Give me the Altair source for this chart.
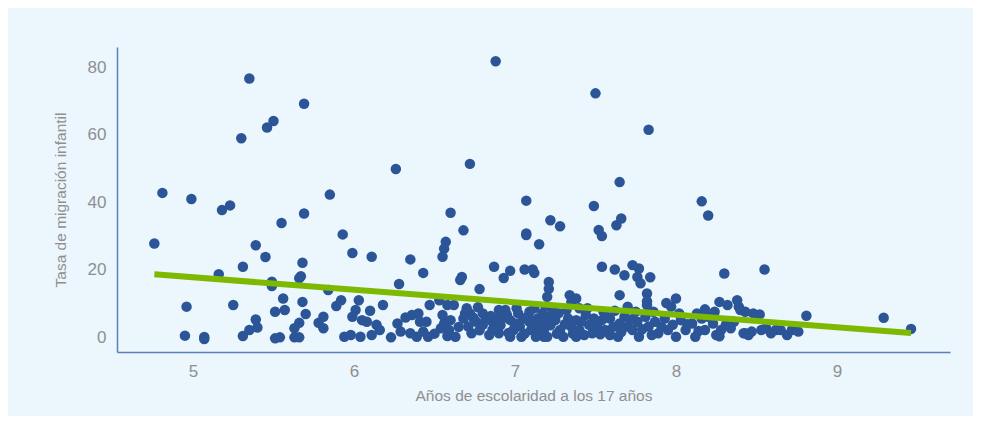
import altair as alt
import pandas as pd

# Scatter data: years of schooling at 17 (x) vs child migration rate (y)
x_vals = [
    4.76, 4.81, 4.99, 4.96, 4.95, 5.07, 5.07, 5.16, 5.18, 5.23, 5.25, 5.30, 5.35, 5.31, 5.31, 5.35,
    5.39, 5.40, 5.39, 5.45, 5.46, 5.50, 5.55, 5.49, 5.49, 5.51, 5.57, 5.56, 5.51, 5.54, 5.63, 5.66,
    5.63, 5.66, 5.69, 5.69, 5.68, 5.67, 5.66, 5.68, 5.70, 5.78, 5.81, 5.81, 5.85, 5.84, 5.89,
    5.93, 5.99, 6.11, 6.35, 6.26, 6.72, 6.60, 6.57, 6.56, 6.55, 6.68, 6.43, 6.28, 6.67, 6.66, 6.78,
    6.87, 6.88, 7.07, 7.07, 7.07, 7.15, 7.22, 7.28, 6.97, 6.93, 7.06, 7.11, 7.12, 7.21, 7.21, 7.20,
    5.92, 6.03, 6.01, 6.10, 6.18, 5.99, 6.05, 6.08, 6.14, 6.16, 5.94, 5.98, 6.04, 6.11, 6.23, 6.29,
    6.32, 6.36, 6.40, 6.41, 6.45, 6.47, 6.35, 6.39, 6.43, 6.46, 6.53, 6.58, 6.62, 6.55, 6.56, 6.60,
    6.54, 6.59, 6.58, 6.63, 6.69, 6.72, 6.68, 6.74, 6.76, 6.71, 6.73, 6.80, 6.82, 6.86, 6.86, 6.90,
    6.92, 6.88, 6.90, 6.94, 6.97, 6.99, 7.02, 7.05, 7.03, 7.04, 7.09, 7.09, 7.10, 7.14, 7.15, 7.17,
    7.19, 7.18, 7.13, 6.97,
    7.50, 7.83, 7.65, 7.49, 7.54, 7.62, 7.68, 7.73, 7.77, 7.84, 7.52, 7.54, 7.63, 7.66, 7.82, 7.65,
    7.78, 7.82, 7.76, 7.82, 8.30, 7.34, 7.38, 7.35, 7.24, 7.40, 7.70, 7.94, 8.00, 7.97, 8.27, 8.32,
    8.38, 8.39, 8.43, 8.18, 8.24, 8.48, 8.43, 8.47, 8.55, 8.16, 8.20,
    7.17, 7.19, 7.18, 7.20, 7.25, 7.28, 7.30, 7.33, 7.35, 7.38, 7.40, 7.38, 7.44, 7.46, 7.48, 7.51,
    7.54, 7.56, 7.57, 7.59, 7.59, 7.64, 7.65, 7.68, 7.70, 7.73, 7.76, 7.77, 7.81, 7.83, 7.87, 7.89,
    7.93, 7.95, 7.98, 8.00, 8.03, 8.06, 8.10, 8.12, 8.16, 8.18, 8.23, 8.25, 8.28, 8.31, 8.34,
    8.40, 8.52, 8.81, 9.29, 9.46, 8.42, 8.45, 8.53, 8.56, 8.59, 8.62, 8.65, 8.69, 8.72, 8.76,
    6.80, 6.84, 6.85, 6.89, 6.91, 6.95, 6.96, 7.00, 7.01, 7.06, 7.08, 7.12, 7.12, 7.16, 7.22, 7.23,
    7.26, 7.27, 7.31, 7.32, 7.36, 7.41, 7.43, 7.45, 7.49, 7.53, 7.55, 7.61, 7.62, 7.66, 7.72, 7.75,
    7.79, 7.85, 7.86, 7.91, 8.02, 8.07, 8.14, 8.20, 8.13, 8.27, 8.36, 6.78, 6.65, 6.50, 6.27, 6.70,
    6.77,
]
y_vals = [
    27.7, 42.7, 40.9, 9.0, 0.4, 0.0, -0.6, 18.6, 37.6, 39.0, 9.5, 58.9, 76.6, 20.8, 0.3, 2.1,
    5.2, 2.8, 27.2, 23.7, 62.1, 64.0, 33.8, 16.4, 15.1, 7.5, 8.0, 11.4, -0.4, -0.1, 2.6, 4.2,
    -0.1, -0.1, 69.1, 36.6, 22.0, 18.0, 17.4, 10.4, 6.8, 4.2, 2.6, 6.0, 42.2, 13.9, 9.2,
    30.4, 24.9, 23.8, 23.0, 49.8, 51.3, 36.8, 28.2, 26.2, 23.8, 31.6, 19.0, 15.7, 17.8, 16.9, 14.2,
    20.8, 81.7, 40.4, 30.7, 30.2, 27.5, 34.6, 32.8, 19.6, 17.5, 20.0, 20.0, 19.0, 16.3, 14.3, 11.9,
    10.9, 10.9, 8.0, 7.8, 9.5, 6.0, 5.0, 4.5, 3.6, 2.1, 0.1, 0.6, 0.1, 0.6, -0.1, 1.6,
    5.8, 6.5, 7.0, 4.5, 4.5, 9.5, 1.1, 0.1, 1.6, 0.1, 10.9, 9.5, 9.5, 6.5, 4.0, 5.0,
    2.6, 2.1, 0.3, 0.1, 7.0, 7.0, 5.5, 5.8, 4.5, 3.1, 1.1, 3.6, 5.5, 4.5, 2.1, 8.0,
    5.5, 3.1, 1.1, 8.0, 5.0, 2.1, 7.0, 5.5, 3.1, 0.1, 7.5, 4.5, 2.1, 5.5, 3.1, 2.1,
    9.0, 0.1, 0.1, 0.1,
    72.2, 61.4, 45.9, 38.8, 20.8, 20.0, 18.3, 21.3, 20.3, 17.7, 31.7, 29.9, 33.1, 35.1, 12.9, 12.4,
    15.9, 10.6, 17.8, 9.5, 18.8, 12.4, 11.4, 10.4, 8.0, 8.5, 9.0, 10.1, 11.4, 9.0, 10.4, 9.5,
    10.9, 9.0, 7.5, 8.2, 7.5, 7.0, 1.1, 1.6, 20.0, 40.2, 36.0,
    7.0, 5.0, 2.1, 0.1, 5.0, 2.1, 0.1, 5.5, 3.1, 5.0, 2.1, 0.1, 6.5, 3.6, 1.1, 3.1,
    5.0, 2.1, 6.0, 5.5, 0.6, 0.1, 4.0, 6.0, 3.1, 2.1, 4.5, 0.1, 6.0, 3.1, 4.5, 1.1,
    5.5, 2.1, 3.6, 0.1, 5.0, 2.1, 4.0, 0.1, 5.5, 2.1, 4.0, 0.6, 2.1, 3.6, 2.6,
    8.0, 6.7, 6.3, 5.7, 2.4, 1.1, 0.6, 2.1, 2.6, 1.1, 2.1, 2.1, 0.6, 2.1, 1.6,
    7.0, 0.6, 6.2, 5.8, 3.5, 6.5, 1.2, 4.0, 8.5, 1.0, 6.0, 8.5, 2.8, 4.2, 3.5, 6.8,
    1.0, 7.0, 3.8, 8.0, 1.0, 4.5, 0.6, 8.5, 5.5, 0.8, 7.5, 3.0, 7.8, 1.5, 5.2, 7.5,
    2.3, 0.6, 7.5, 3.0, 7.0, 3.8, 1.8, 6.0, 7.0, 0.2, 4.5, 2.0, 3.0, 1.0, 4.0, 8.5,
    8.8,
]

# Trend line end points
trend_x = [4.76, 9.46]
trend_y = [18.6, 1.2]

x_ticks = [5, 6, 7, 8, 9]
y_ticks = [0, 20, 40, 60, 80]

df = pd.DataFrame({"x": x_vals, "y": y_vals})
df_line = pd.DataFrame({"x": trend_x, "y": trend_y})

FONT = "Liberation Sans"
GRAY = "#8f8f8f"

x_scale = alt.Scale(domain=[4.528, 9.702], nice=False, zero=False)
y_scale = alt.Scale(domain=[-4.44, 85.93], nice=False, zero=False)

x_axis = alt.Axis(values=x_ticks, format="d", title="Años de escolaridad a los 17 años",
                  titleY=43, titleBaseline="middle")
y_axis = alt.Axis(values=y_ticks, format="d", title="Tasa de migración infantil",
                  titleX=-57, titleBaseline="middle")

points = alt.Chart(df).mark_circle(size=110, color="#2b5597", opacity=1).encode(
    x=alt.X("x:Q", scale=x_scale, axis=x_axis),
    y=alt.Y("y:Q", scale=y_scale, axis=y_axis),
)

line = alt.Chart(df_line).mark_line(color="#7cb900", strokeWidth=6, strokeCap="butt").encode(
    x=alt.X("x:Q", scale=x_scale),
    y=alt.Y("y:Q", scale=y_scale),
)

chart = (
    alt.layer(points, line)
    .properties(
        width=833,
        height=305,
        padding={"left": 109, "top": 39, "right": 23, "bottom": 64},
        autosize=alt.AutoSizeParams(type="none"),
    )
    .configure(background="#ebf6fd")
    .configure_view(stroke=None)
    .configure_axis(
        grid=False,
        ticks=False,
        tickSize=0,
        domainColor="#5b80bd",
        domainWidth=1.5,
        labelColor=GRAY,
        labelFont=FONT,
        labelFontSize=17,
        labelPadding=11,
        titleColor=GRAY,
        titleFont=FONT,
        titleFontSize=15.5,
        titleFontWeight="normal",
    )
)

chart.save("out.html", embed_options={"renderer": "svg", "actions": False})
